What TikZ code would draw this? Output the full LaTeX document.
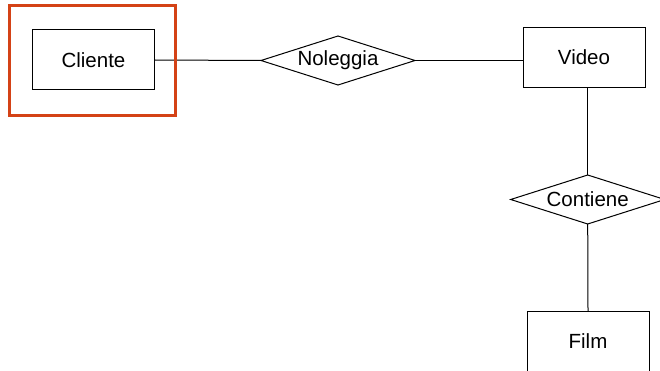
\documentclass[tikz,border=0pt]{standalone}
\usepackage{fontspec}
\setmainfont{Liberation Sans}
\usepackage{tikz}
\usetikzlibrary{shapes.geometric}
\definecolor{selred}{RGB}{212,66,22}

\begin{document}
\begin{tikzpicture}[x=1pt, y=-1pt, line width=1pt,
  entity/.style={draw, rectangle, inner sep=0, outer sep=0, minimum width=122pt, minimum height=60pt, font=\fontsize{20.5pt}{24pt}\selectfont},
  relation/.style={draw, diamond, aspect=3.1, inner sep=0, outer sep=0, minimum width=154pt, minimum height=49pt, font=\fontsize{20.5pt}{24pt}\selectfont}]
  \useasboundingbox (0,0) rectangle (660,371);
  \clip (0,0) rectangle (660,371);

  \node [entity] (cliente) at (93.5,60) {Cliente};
  \node [relation] (noleggia) at (338,60.5) {Noleggia};
  \node [entity] (video) at (584,57.3) {Video};
  \node [relation] (contiene) at (587.7,199.5) {Contiene};
  \node [entity] (film) at (588,341) {Film};

  \draw (cliente.east) -- (noleggia.west);
  \draw (noleggia.east) -- (noleggia.east -| video.west);
  \draw (contiene.north |- video.south) -- (contiene.north);
  \draw (contiene.south) -- (film.north);

  % selection frame
  \draw [selred, line width=3pt] (9,6) rectangle (175,116);
\end{tikzpicture}
\end{document}
